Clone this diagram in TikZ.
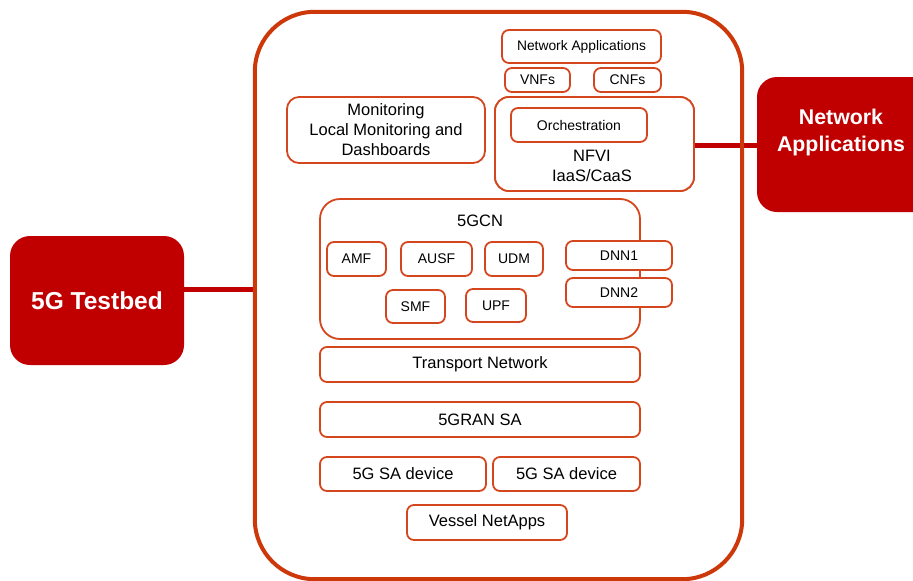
\documentclass[tikz,border=0pt]{standalone}
\usepackage{fontspec}
\setmainfont{Liberation Sans}
\definecolor{outerc}{RGB}{204,56,10}
\definecolor{innerc}{RGB}{212,70,30}
\definecolor{darkred}{RGB}{192,0,0}
\begin{document}
\begin{tikzpicture}[x=1pt,y=-1pt,
  box/.style={draw=innerc,line width=1.8pt,rounded corners=7pt,fill=white,inner sep=0pt,align=center,font=\fontsize{14}{16}\selectfont},
  bigtxt/.style={font=\fontsize{16.5}{20}\selectfont,align=center},
  redbox/.style={fill=darkred,rounded corners=20pt,inner sep=0pt},
  link/.style={draw=darkred,line width=5pt}]
\useasboundingbox (0,0) rectangle (913,581);
\clip (0,0) rectangle (913,581);
% external boxes
\node[redbox,minimum width=174pt,minimum height=129pt] (tb) at (97,300.5) {};
\node[font=\bfseries\fontsize{24.5}{28}\selectfont,text=white] (tbt) at (97,301) {5G Testbed};
\node[redbox,minimum width=180pt,minimum height=135pt] (na) at (847,144.5) {};
\node[font=\bfseries\fontsize{21.3}{27}\selectfont,text=white,align=center] (nat) at (841,132) {Network\\Applications};
% outer box
\node[draw=none,minimum width=487pt,minimum height=567pt,inner sep=0pt] (outer) at (498.5,295.5) {};
% NFVI box (for link)
\node[box,rounded corners=14pt,minimum width=199pt,minimum height=94pt] (nfvi) at (594.5,144) {};
\draw[link] (tb.east |- 0,289) -- (outer.west |- 0,289);
\draw[link] (nfvi.east |- 0,145) -- (na.west |- 0,145);
\draw[draw=outerc,line width=4pt,rounded corners=60pt] (outer.south west) rectangle (outer.north east);
% top
\node[box,rounded corners=14pt,minimum width=199pt,minimum height=94pt] (nfvi2) at (594.5,144) {};
\node[bigtxt] (nfvit) at (592,165.5) {NFVI\\IaaS/CaaS};
\node[box,minimum width=136pt,minimum height=34pt] (orch) at (579,125) {Orchestration};
\node[box,font=\fontsize{13.8}{16}\selectfont,minimum width=159pt,minimum height=33pt] (netapp) at (581.5,46.5) {Network Applications};
\node[box,minimum width=65pt,minimum height=24pt] (vnf) at (537.5,80) {VNFs};
\node[box,minimum width=67pt,minimum height=24pt] (cnf) at (627.5,80) {CNFs};
\node[box,bigtxt,rounded corners=12pt,minimum width=198pt,minimum height=66pt] (mon) at (386,130) {Monitoring\\Local Monitoring and\\Dashboards};
% 5GCN
\node[box,rounded corners=20pt,minimum width=320pt,minimum height=140pt] (cn) at (480,269) {};
\node[bigtxt] (cnt) at (480,221) {5GCN};
\node[box,minimum width=59pt,minimum height=34pt] (amf) at (356.5,259) {AMF};
\node[box,minimum width=71pt,minimum height=34pt] (ausf) at (436.5,259) {AUSF};
\node[box,minimum width=58pt,minimum height=34pt] (udm) at (514,259) {UDM};
\node[box,minimum width=106pt,minimum height=29pt] (dnn1) at (619,255.5) {DNN1};
\node[box,minimum width=106pt,minimum height=29pt] (dnn2) at (619,292.5) {DNN2};
\node[box,minimum width=59pt,minimum height=33pt] (smf) at (415.5,306.5) {SMF};
\node[box,minimum width=60pt,minimum height=33pt] (upf) at (496,305.5) {UPF};
% lower layers
\node[box,bigtxt,minimum width=320pt,minimum height=35pt] (tn) at (480,364.5) {Transport Network};
\node[box,bigtxt,minimum width=320pt,minimum height=35pt] (ran) at (480,419.5) {5GRAN SA};
\node[box,bigtxt,minimum width=166pt,minimum height=34pt] (dev1) at (403,474) {5G SA device};
\node[box,bigtxt,minimum width=147pt,minimum height=34pt] (dev2) at (566.5,474) {5G SA device};
\node[box,bigtxt,minimum width=160pt,minimum height=35pt] (ves) at (487,522.5) {Vessel NetApps};
\end{tikzpicture}
\end{document}
